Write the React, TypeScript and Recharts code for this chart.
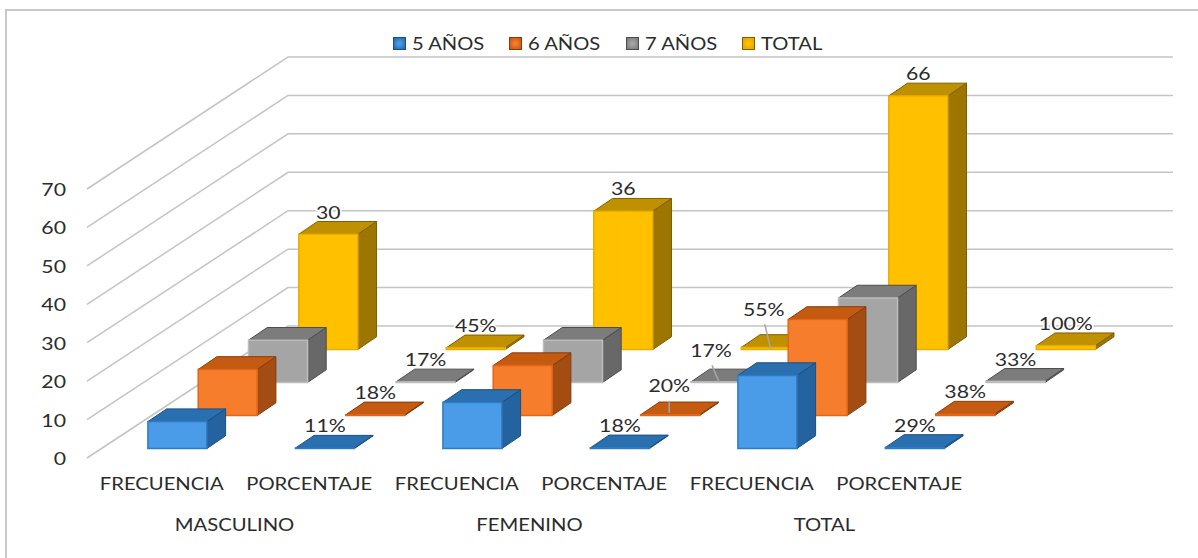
import { Bar, BarChart, CartesianGrid, LabelList, XAxis, YAxis } from 'recharts';

const categories = ['FRECUENCIA', 'PORCENTAJE', 'FRECUENCIA', 'PORCENTAJE', 'FRECUENCIA', 'PORCENTAJE'];
const groups = ['MASCULINO', 'MASCULINO', 'FEMENINO', 'FEMENINO', 'TOTAL', 'TOTAL'];
const anios5 = [7, 0.11, 12, 0.18, 19, 0.29];
const anios6 = [12, 0.18, 13, 0.2, 25, 0.38];
const anios7 = [11, 0.17, 11, 0.17, 22, 0.33];
const totales = [30, 0.45, 36, 0.55, 66, 1];
const yTicks = [0, 10, 20, 30, 40, 50, 60, 70];

const chartData = categories.map((category, i) => ({
  category,
  group: groups[i],
  anios5: anios5[i],
  anios6: anios6[i],
  anios7: anios7[i],
  totales: totales[i],
}));

// depth: 0 is the front row of the 3D chart, 3 the back row
const SERIES = [
  { key: 'anios5', name: '5 AÑOS', depth: 0, front: '#4A9BE8', top: '#2A6FB0', side: '#24639F', edge: '#2E7CC4', outline: '#1B4F82', swatch: '#1F66A8' },
  { key: 'anios6', name: '6 AÑOS', depth: 1, front: '#F57D2B', top: '#C55A11', side: '#A34D12', edge: '#E0661A', outline: '#843C0C', swatch: '#C9500F' },
  { key: 'anios7', name: '7 AÑOS', depth: 2, front: '#A5A5A5', top: '#7C7C7C', side: '#686868', edge: '#BDBDBD', outline: '#4D4D4D', swatch: '#767676' },
  { key: 'totales', name: 'TOTAL', depth: 3, front: '#FFC000', top: '#BF9000', side: '#9C7600', edge: '#E8AE00', outline: '#7F6000', swatch: '#DFA400' },
];

const FONT = 'Lato, sans-serif';
const TEXT_COLOR = '#2B2B2B';
const GRID_COLOR = '#C4C4C4';

const BAND = 147.5;
const RAW_BAR = 30; // only used to lay out the group, the shape widens it
const BAR_W = 59;
const STEP_X = 50.3;
const STEP_Y = 33;
const BAR_INSET_Y = 9.5;
const DEPTH_X = 18.7;
const DEPTH_Y = 12.7;
const WALL_X = 201;
const WALL_Y = 132;

// where the front-left corner of a bar goes, from the flat position recharts gives it
const shiftX = (depth: number) => 46.9 - RAW_BAR * (3 - depth) + STEP_X * depth;
const shiftY = (depth: number) => -BAR_INSET_Y - STEP_Y * depth;

// labels that Excel pulled away from their bars, with a leader line (relative to bar centre and top)
const PULLED_LABELS: Record<string, { dx: number; dy: number; from: [number, number]; to: [number, number] }> = {
  'anios6-3': { dx: -1, dy: -7, from: [-1, -14], to: [-1, -2] },
  'anios7-3': { dx: -9.5, dy: -9, from: [-8.5, -16.5], to: [-1.5, 0] },
  'totales-3': { dx: -7, dy: -16, from: [-6, -23], to: [0, 2] },
};

function StretchedText({ x, y, sx = 1.15, origin = 'center', anchor = 'middle', size = 18, children, halo }: any) {
  return (
    <text
      x={x}
      y={y}
      textAnchor={anchor}
      fontFamily={FONT}
      fontSize={size}
      fill={TEXT_COLOR}
      stroke={halo ? '#fff' : undefined}
      strokeWidth={halo ? 3 : undefined}
      paintOrder="stroke"
      style={{ transformBox: 'fill-box', transformOrigin: `${origin} center`, transform: `scaleX(${sx})` }}
    >
      {children}
    </text>
  );
}

function makePrism(series: (typeof SERIES)[number]) {
  return function Prism(props: any) {
    const left = props.x + shiftX(series.depth);
    const right = left + BAR_W;
    const bottom = props.y + props.height + shiftY(series.depth);
    const top = props.y + shiftY(series.depth);
    const topFace = `${left},${top} ${left + DEPTH_X},${top - DEPTH_Y} ${right + DEPTH_X},${top - DEPTH_Y} ${right},${top}`;
    const sideFace = `${right},${top} ${right + DEPTH_X},${top - DEPTH_Y} ${right + DEPTH_X},${bottom - DEPTH_Y} ${right},${bottom}`;
    return (
      <g>
        <polygon points={sideFace} fill={series.side} stroke={series.outline} strokeWidth={1} />
        <polygon points={topFace} fill={series.top} stroke={series.outline} strokeWidth={1} />
        <rect x={left} y={top} width={BAR_W} height={bottom - top} fill={series.front} stroke={series.edge} strokeWidth={1.5} />
      </g>
    );
  };
}

function makeLabel(series: (typeof SERIES)[number]) {
  return function BarLabel(props: any) {
    const { x, y, index, value } = props;
    const isPercent = index % 2 === 1;
    if (!isPercent && series.key !== 'totales') return null;
    const text = isPercent ? `${Math.round(value * 100)}%` : value;
    const cx = x + shiftX(series.depth) + BAR_W / 2;
    const anchorY = y + shiftY(series.depth);
    const pulled = PULLED_LABELS[`${series.key}-${index}`];
    const baseline = anchorY - DEPTH_Y - 3 + (pulled ? pulled.dy : 0);
    return (
      <g>
        {pulled && (
          <line
            x1={cx + pulled.from[0]}
            y1={anchorY + pulled.from[1]}
            x2={cx + pulled.to[0]}
            y2={anchorY + pulled.to[1]}
            stroke="#A6A6A6"
            strokeWidth={1.5}
          />
        )}
        <StretchedText x={cx + (pulled ? pulled.dx : 0)} y={baseline} size={18} sx={1.18} halo>
          {text}
        </StretchedText>
      </g>
    );
  };
}

// one grid line folds along the side wall and then runs across the back wall
function FoldedGridLine(props: any) {
  const { x1, y1, x2 } = props;
  const backX = x1 + WALL_X;
  const backY = y1 - WALL_Y;
  return (
    <polyline
      points={`${x1},${y1} ${backX},${backY} ${x2 + WALL_X},${backY}`}
      fill="none"
      stroke={GRID_COLOR}
      strokeWidth={1.5}
    />
  );
}

function ValueTick({ x, y, payload }: any) {
  return (
    <StretchedText x={x} y={y + 7} anchor="end" origin="right" sx={1.18}>
      {payload.value}
    </StretchedText>
  );
}

function CategoryTick({ x, y, payload }: any) {
  return (
    <StretchedText x={x + 1} y={y + 24} sx={1.125}>
      {payload.value}
    </StretchedText>
  );
}

function GroupTick({ x, y, payload, index }: any) {
  if (index % 2 === 1) return null;
  return (
    <StretchedText x={x + BAND / 2} y={y + 25} sx={1.125}>
      {payload.value}
    </StretchedText>
  );
}

function ChartLegend() {
  return (
    <div style={{ position: 'absolute', left: 393, top: 31, display: 'flex', fontFamily: FONT, fontSize: 18, color: TEXT_COLOR }}>
      {SERIES.map((s) => (
        <div key={s.key} style={{ width: 116.3, display: 'flex', alignItems: 'center', height: 24 }}>
          <span
            style={{
              width: 13,
              height: 13,
              marginRight: 6,
              background: `radial-gradient(circle, ${s.front} 15%, ${s.swatch} 100%)`,
              border: `1px solid ${s.outline}`,
              boxSizing: 'border-box',
            }}
          />
          <span style={{ display: 'inline-block', transform: 'scaleX(1.12)', transformOrigin: 'left center', whiteSpace: 'nowrap' }}>
            {s.name}
          </span>
        </div>
      ))}
    </div>
  );
}

export default function App() {
  return (
    <div style={{ position: 'absolute', left: 0, top: 0, width: 1198, height: 558, background: '#fff', overflow: 'hidden' }}>
      <div style={{ position: 'absolute', left: 5, top: 9, right: 0, bottom: 0, borderLeft: '2px solid #C8C8C8', borderTop: '2px solid #C8C8C8' }} />
      <ChartLegend />
      <BarChart
        width={1198}
        height={558}
        data={chartData}
        margin={{ top: 189, right: 226, bottom: 0, left: 0 }}
        barSize={RAW_BAR}
        barGap={0}
        style={{ position: 'absolute', left: 0, top: 0 }}
      >
        <CartesianGrid vertical={false} horizontal={FoldedGridLine} stroke={GRID_COLOR} />
        <XAxis dataKey="category" height={40} axisLine={false} tickLine={false} interval={0} tick={CategoryTick} />
        <XAxis xAxisId="groups" dataKey="group" height={60} axisLine={false} tickLine={false} interval={0} tick={GroupTick} />
        <YAxis
          width={87}
          domain={[0, 70]}
          ticks={yTicks}
          axisLine={false}
          tickLine={false}
          tickMargin={15}
          tick={ValueTick}
        />
        {/* back row first, so the front rows paint over it */}
        {[...SERIES].reverse().map((s) => (
          <Bar key={s.key} dataKey={s.key} name={s.name} shape={makePrism(s)} isAnimationActive={false}>
            <LabelList dataKey={s.key} content={makeLabel(s)} />
          </Bar>
        ))}
      </BarChart>
    </div>
  );
}
